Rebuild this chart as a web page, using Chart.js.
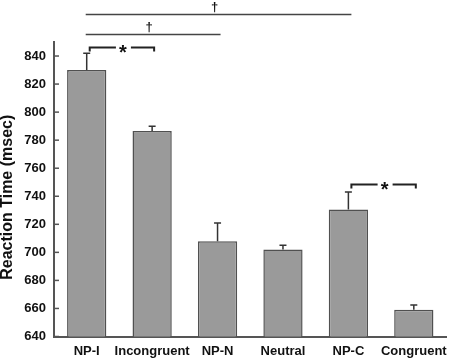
<!DOCTYPE html>
<html>
<head>
<meta charset="utf-8">
<script src="https://cdn.jsdelivr.net/npm/chart.js@4"></script>
<style>
  html, body { margin: 0; padding: 0; background: #fff; }
  #wrap { width: 454px; height: 358px; }
</style>
</head>
<body>
<div id="wrap"><canvas id="rtChart"></canvas></div>
<script>
// Data
var categories = ['NP-I', 'Incongruent', 'NP-N', 'Neutral', 'NP-C', 'Congruent'];
var meanRT = [830, 786.5, 708, 702, 730.5, 659];
var errRT = [12, 3.5, 13, 3, 12.5, 3.5];
var yTicks = [640, 660, 680, 700, 720, 740, 760, 780, 800, 820, 840];
var yTitle = 'Reaction Time (msec)';

// significance marks: [from index, to index, y value, symbol]
var daggerLines = [[0, 4, 870, '\u2020'], [0, 2, 856, '\u2020']];
var starBrackets = [[0, 1, 846.5, '*'], [4, 5, 748.5, '*']];

var FONT = "Arial, 'Liberation Sans', sans-serif";
var AXIS = '#555';

// error bars, inward y ticks, axis title and significance marks
var extras = {
    id: 'extras',
    afterDatasetsDraw: function (chart) {
        var c = chart.ctx, x = chart.scales.x, y = chart.scales.y, a = chart.chartArea;
        c.save();
        // error bars
        c.strokeStyle = '#333';
        c.lineWidth = 1.5;
        meanRT.forEach(function (v, i) {
            var px = x.getPixelForValue(i);
            var top = y.getPixelForValue(v + errRT[i]);
            c.beginPath();
            c.moveTo(px, y.getPixelForValue(v));
            c.lineTo(px, top);
            c.moveTo(px - 3.5, top);
            c.lineTo(px + 3.5, top);
            c.stroke();
        });
        // inward ticks on y axis
        c.strokeStyle = AXIS;
        c.lineWidth = 1.5;
        yTicks.forEach(function (t) {
            var py = y.getPixelForValue(t);
            c.beginPath();
            c.moveTo(a.left, py);
            c.lineTo(a.left + 5, py);
            c.stroke();
        });
        // y axis title, sitting a little below the middle of the axis
        c.fillStyle = '#111';
        c.save();
        c.translate(8, (a.top + a.bottom) / 2 + 8);
        c.rotate(-Math.PI / 2);
        c.font = 'bold 16px ' + FONT;
        c.textAlign = 'center';
        c.textBaseline = 'middle';
        c.fillText(yTitle, 0, 0);
        c.restore();
        // dagger lines
        c.textAlign = 'center';
        daggerLines.forEach(function (d) {
            var x1 = x.getPixelForValue(d[0]) - 1;
            var x2 = x.getPixelForValue(d[1]) + 3;
            var py = Math.round(y.getPixelForValue(d[2])) + 0.5;
            c.strokeStyle = '#444';
            c.lineWidth = 1.5;
            c.beginPath();
            c.moveTo(x1, py);
            c.lineTo(x2, py);
            c.stroke();
            c.font = 'bold 13px ' + FONT;
            c.textBaseline = 'bottom';
            c.fillText(d[3], (x1 + x2) / 2 - 4, py - 1);
        });
        // star brackets
        starBrackets.forEach(function (s) {
            var x1 = x.getPixelForValue(s[0]) + 3;
            var x2 = x.getPixelForValue(s[1]) + 2;
            var py = Math.round(y.getPixelForValue(s[2])) + 0.5;
            var mid = (x1 + x2) / 2 + 1;
            c.strokeStyle = '#222';
            c.lineWidth = 2;
            c.beginPath();
            c.moveTo(x1, py + 4);
            c.lineTo(x1, py);
            c.lineTo(mid - 7, py);
            c.moveTo(mid + 8, py);
            c.lineTo(x2, py);
            c.lineTo(x2, py + 4);
            c.stroke();
            c.font = 'bold 20px ' + FONT;
            c.textBaseline = 'middle';
            c.fillText(s[3], mid, py + 6);
        });
        c.restore();
    }
};

var ctx = document.getElementById('rtChart').getContext('2d');

var rtChart = new Chart(ctx, {
    type: 'bar',
    data: {
        labels: categories,
        datasets: [{
            data: meanRT,
            backgroundColor: '#9a9a9a',
            borderColor: '#505050',
            borderWidth: 1.5,
            borderSkipped: 'bottom',
            categoryPercentage: 1,
            barPercentage: 0.6
        }]
    },
    options: {
        responsive: true,
        maintainAspectRatio: false,
        animation: false,
        layout: { padding: { top: 42, right: 4, bottom: 0, left: 0 } },
        plugins: {
            legend: { display: false },
            tooltip: { enabled: false }
        },
        scales: {
            x: {
                afterFit: function (axis) { axis.height = 21.5; },
                grid: { display: false, drawTicks: false },
                border: { display: true, color: AXIS, width: 2 },
                ticks: {
                    color: '#111',
                    padding: 7,
                    autoSkip: false,
                    maxRotation: 0,
                    minRotation: 0,
                    font: { family: FONT, size: 13, weight: 'bold' }
                }
            },
            y: {
                min: 640,
                max: 850,
                afterFit: function (axis) { axis.width = 54; },
                afterBuildTicks: function (axis) {
                    axis.ticks = yTicks.map(function (v) { return { value: v }; });
                },
                grid: { display: false, drawTicks: false },
                border: { display: true, color: AXIS, width: 2 },
                ticks: {
                    color: '#111',
                    padding: 8,
                    font: { family: FONT, size: 13, weight: 'bold' }
                }
            }
        }
    },
    plugins: [extras]
});
</script>
</body>
</html>
